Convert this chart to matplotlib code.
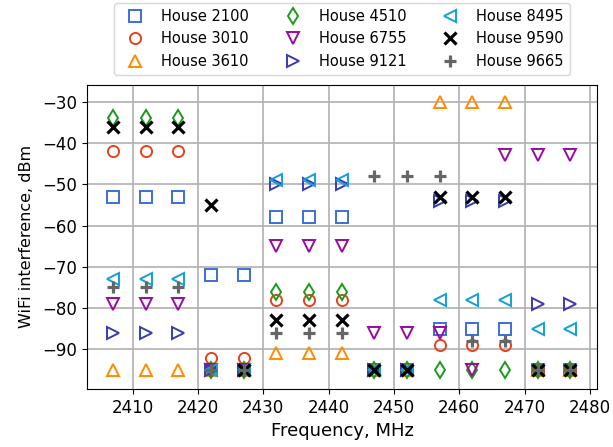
import numpy as np
import matplotlib
matplotlib.use('Agg')
import matplotlib.pyplot as plt

# Frequencias dos canais (MHz)
freqs = [2407, 2412, 2417, 2422, 2427, 2432, 2437, 2442, 2447, 2452, 2457, 2462, 2467, 2472, 2477]

# Interferencia por casa (dBm), um valor por canal
house_2100 = [-53, -53, -53, -72, -72, -58, -58, -58, -95, -95, -85, -85, -85, -95, -95]
house_3010 = [-42, -42, -42, -92, -92, -78, -78, -78, -95, -95, -89, -89, -89, -95, -95]
house_3610 = [-95, -95, -95, -95, -95, -91, -91, -91, -95, -95, -30, -30, -30, -95, -95]
house_4510 = [-34, -34, -34, -95, -95, -76, -76, -76, -95, -95, -95, -95, -95, -95, -95]
house_6755 = [-79, -79, -79, -95, -95, -65, -65, -65, -86, -86, -86, -95, -43, -43, -43]
house_9121 = [-86, -86, -86, -95, -95, -50, -50, -50, -95, -95, -54, -54, -54, -79, -79]
house_8495 = [-73, -73, -73, -95, -95, -49, -49, -49, -95, -95, -78, -78, -78, -85, -85]
house_9590 = [-36, -36, -36, -55, -95, -83, -83, -83, -95, -95, -53, -53, -53, -95, -95]
house_9665 = [-75, -75, -75, -95, -95, -86, -86, -86, -48, -48, -48, -88, -88, -95, -95]

series = [
    ('House 2100', house_2100, 's', '#3b6fd6'),
    ('House 3010', house_3010, 'o', '#e2431e'),
    ('House 3610', house_3610, '^', '#ff8c00'),
    ('House 4510', house_4510, 'd', '#1c9a1c'),
    ('House 6755', house_6755, 'v', '#990a9f'),
    ('House 9121', house_9121, '>', '#3a3ab2'),
    ('House 8495', house_8495, '<', '#12a0d6'),
    ('House 9590', house_9590, 'x', 'black'),
    ('House 9665', house_9665, '+', '#666666'),
]

fig = plt.figure(figsize=(6.13, 4.47), dpi=100)
ax = fig.add_axes([0.142, 0.130, 0.832, 0.680])

for nome, valores, marcador, cor in series:
    if marcador in ('x', '+'):
        ax.plot(freqs, valores, linestyle='none', marker=marcador, color=cor,
                markersize=8, markeredgewidth=2.3, label=nome)
    else:
        ax.plot(freqs, valores, linestyle='none', marker=marcador, markersize=8,
                markerfacecolor='none', markeredgecolor=cor, markeredgewidth=1.4, label=nome)

ax.grid(True, color='#b0b0b0', linewidth=1.2)
ax.set_axisbelow(True)
ax.set_xlim(2403, 2481.1)
ax.set_ylim(-99.6, -25.9)
ax.set_xlabel('Frequency, MHz', fontsize=13)
ax.set_ylabel('WiFi interference, dBm', fontsize=11.5, labelpad=6)
ax.tick_params(labelsize=12)
ax.set_yticks([-30, -40, -50, -60, -70, -80, -90])

ax.legend(ncol=3, loc='lower center', bbox_to_anchor=(0.5, 1.01), fontsize=10.5)

fig.savefig('out.png')
